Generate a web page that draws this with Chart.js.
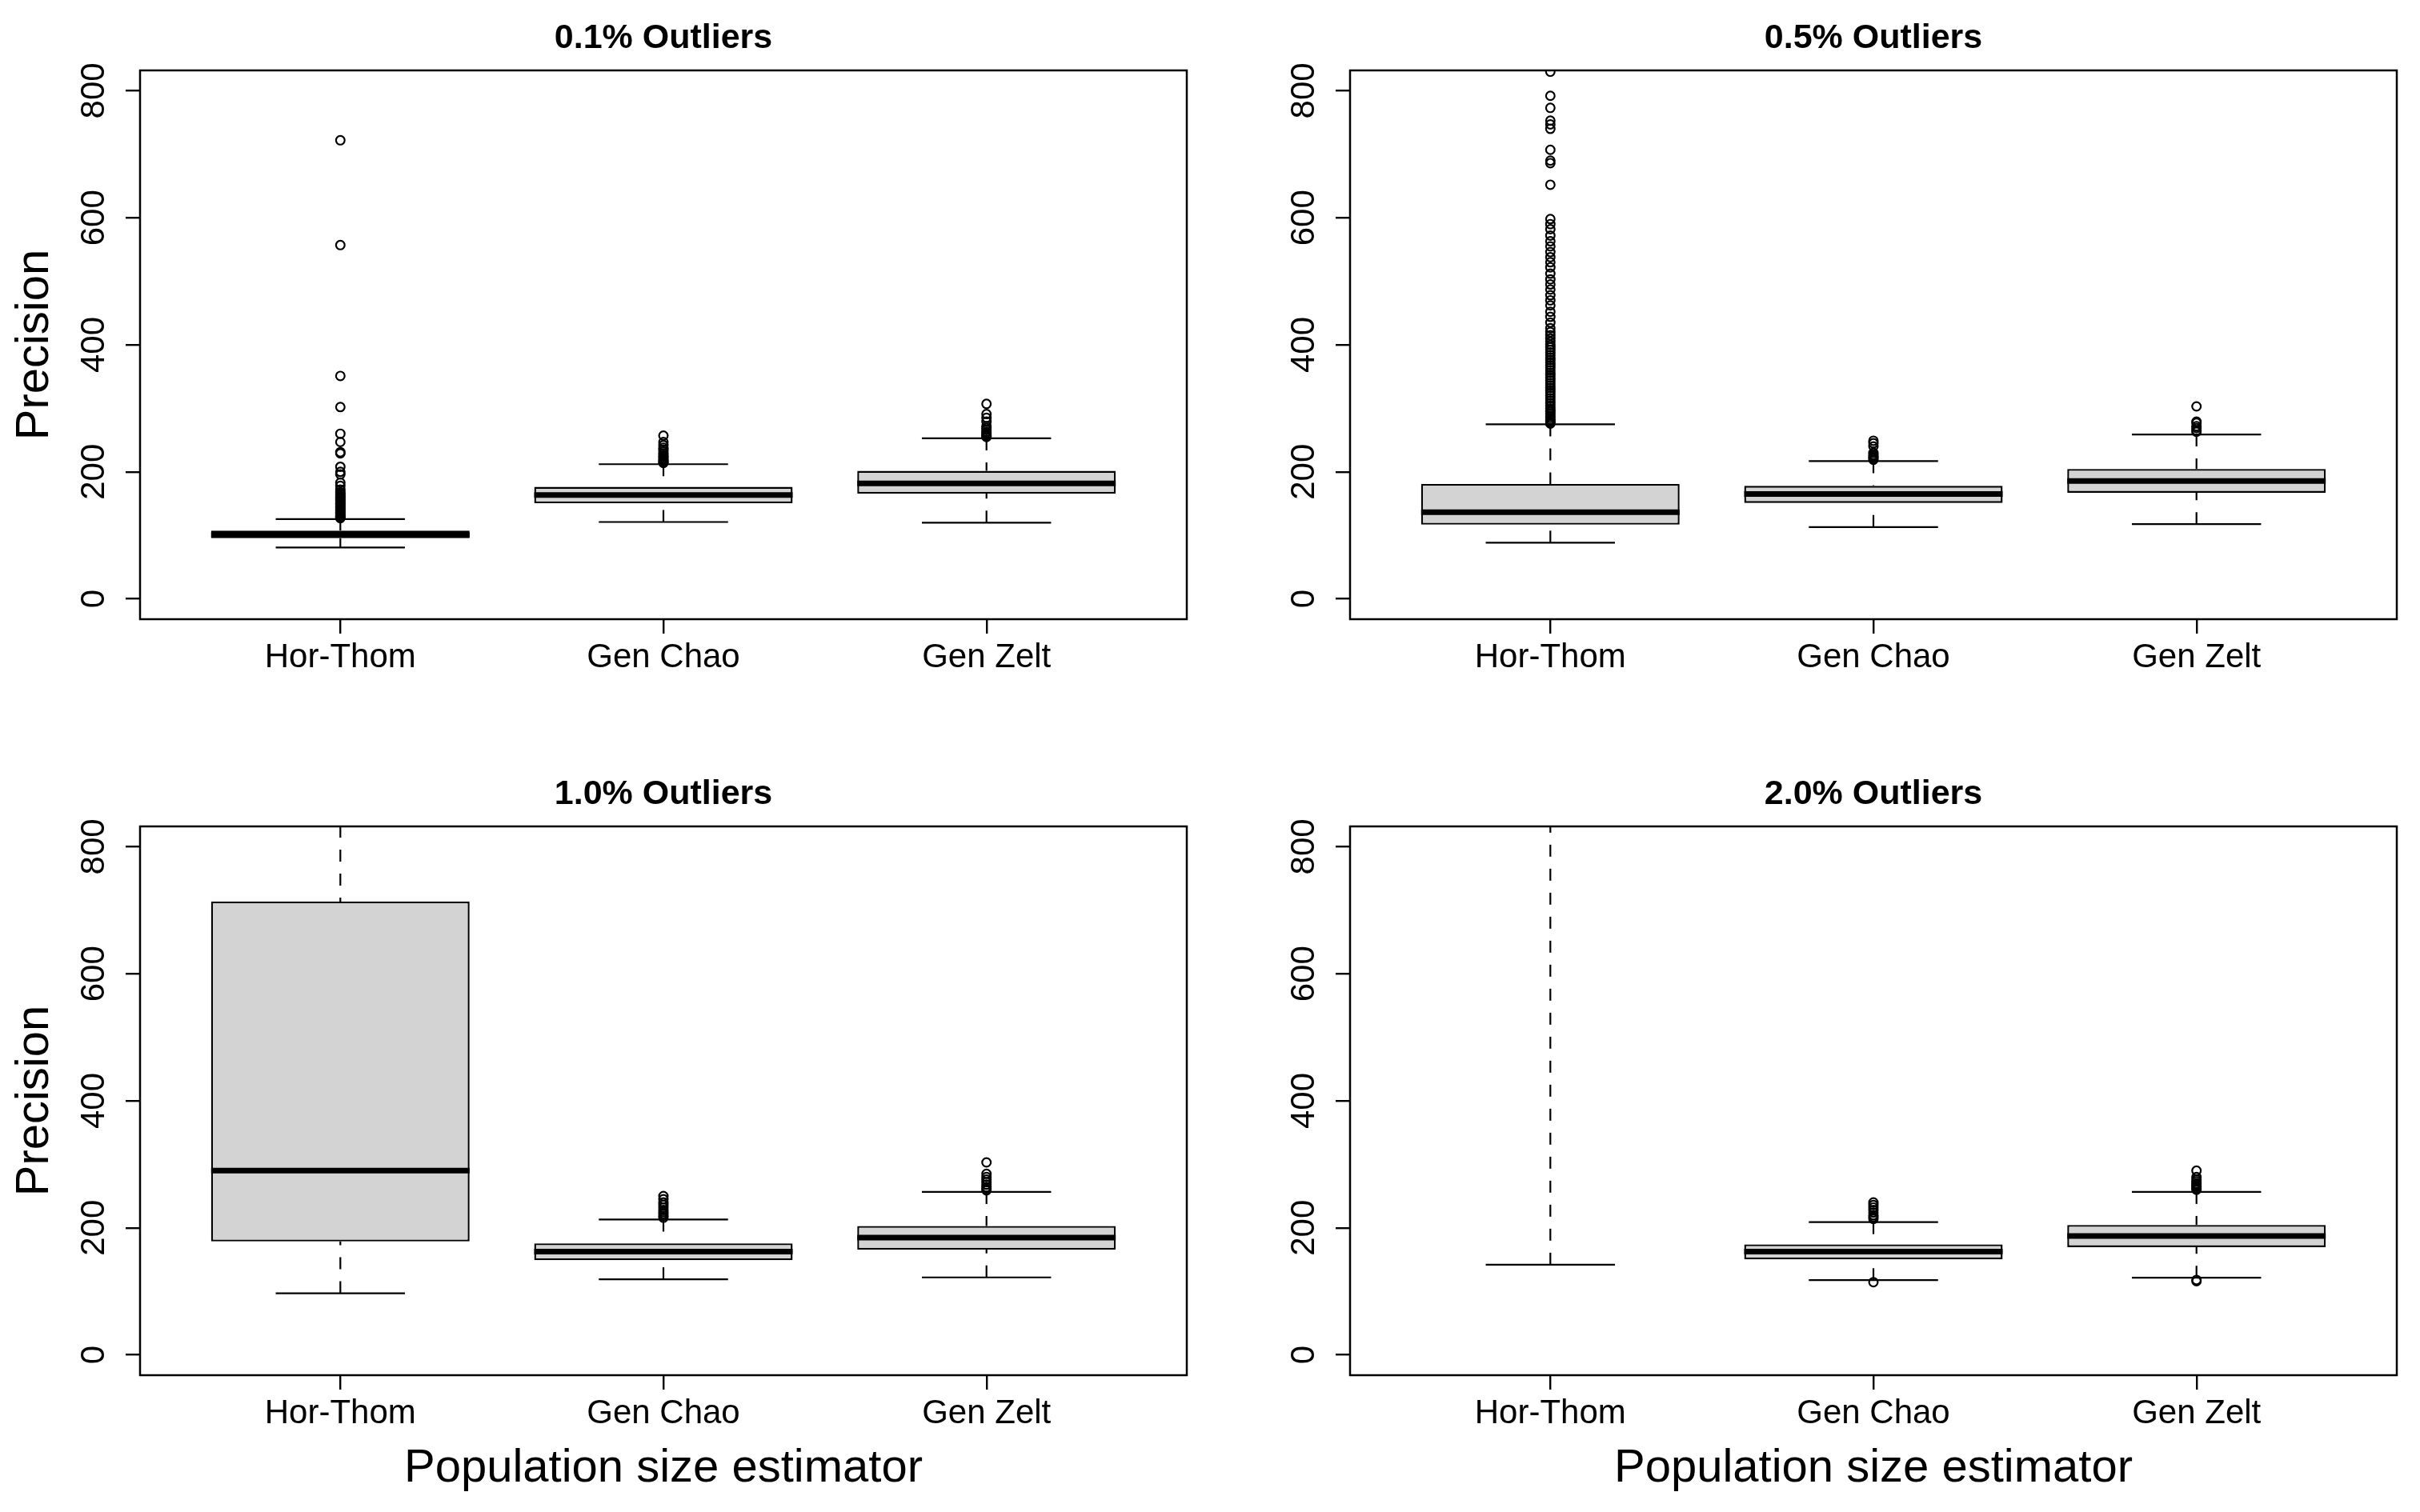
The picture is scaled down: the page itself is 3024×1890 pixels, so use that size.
<!DOCTYPE html>
<html>
<head>
<meta charset="utf-8">
<script src="https://cdn.jsdelivr.net/npm/chart.js@4"></script>
<style>
  html, body { margin: 0; padding: 0; background: #fff; }
  #wrap { position: relative; width: 3024px; height: 1890px; background: #fff; }
  canvas { position: absolute; }
</style>
</head>
<body>
<div id="wrap">
  <canvas id="c1" width="1512" height="945" style="left:0px;top:0px;width:1512px;height:945px"></canvas>
  <canvas id="c2" width="1512" height="945" style="left:1512px;top:0px;width:1512px;height:945px"></canvas>
  <canvas id="c3" width="1512" height="945" style="left:0px;top:945px;width:1512px;height:945px"></canvas>
  <canvas id="c4" width="1512" height="945" style="left:1512px;top:945px;width:1512px;height:945px"></canvas>
</div>
<script>
// ---------------- DATA ----------------
const categories = ["Hor-Thom", "Gen Chao", "Gen Zelt"];
const panelTitles = ["0.1% Outliers", "0.5% Outliers", "1.0% Outliers", "2.0% Outliers"];
const yTicks = [0, 200, 400, 600, 800];
const yLimits = [-32, 832];
const xLabel = "Population size estimator";
const yLabel = "Precision";

// 0.1% Outliers
const p1Low  = [81, 121, 120];
const p1Q1   = [95.5, 150.5, 165.6];
const p1Med  = [101, 163.4, 181.7];
const p1Q3   = [107.6, 176.3, 201.5];
const p1High = [125.5, 212, 252.7];
const p1OutHorThom = [722, 557, 351, 302, 260, 247, 231, 229, 208, 200, 196, 183, 178, 172, 168, 166, 164, 162, 160, 158, 156, 154, 152, 150, 148, 146, 144, 142, 140, 138, 136, 134, 132, 130, 129, 128, 127];
const p1OutGenChao = [257, 247, 242, 238, 235, 232, 229, 226, 224, 222, 220, 218, 216, 215, 214];
const p1OutGenZelt = [307, 291, 285, 279, 272, 269, 266, 263, 261, 259, 257, 256, 255];

// 0.5% Outliers
const p2Low  = [88.5, 113, 117.6];
const p2Q1   = [116.8, 151, 167];
const p2Med  = [136.6, 165, 185.5];
const p2Q3   = [181, 177.9, 204.6];
const p2High = [274.8, 216.8, 258.8];
const p2OutHorThom = [830, 792, 773, 753, 747, 740, 707, 690, 686, 652, 598, 590, 582, 572, 563, 555, 546, 538, 530, 522, 512, 503, 495, 487, 478, 470, 462, 452, 444, 435, 426, 420, 415, 410, 405, 400, 396, 392, 388, 384, 380, 376, 372, 368, 364, 360, 356, 352, 348, 344, 340, 336, 332, 328, 324, 320, 316, 312, 308, 304, 300, 297, 294, 291, 288, 285, 282, 280, 278, 276];
const p2OutGenChao = [249, 245, 240, 230, 227, 225, 223, 221, 219];
const p2OutGenZelt = [303, 279, 277, 272, 269, 265, 263];

// 1.0% Outliers
const p3Low  = [97, 119, 122];
const p3Q1   = [178.6, 148.9, 165.6];
const p3Med  = [290, 162.6, 184.7];
const p3Q3   = [713.7, 175.6, 203];
const p3High = [1400, 213, 256.5];
const p3OutHorThom = [];
const p3OutGenChao = [250, 245, 240, 236, 232, 228, 225, 222, 219, 216];
const p3OutGenZelt = [303, 285, 280, 276, 272, 268, 264, 261, 259];

// 2.0% Outliers
const p4Low  = [142, 117.6, 121.4];
const p4Q1   = [1100, 150.4, 169.5];
const p4Med  = [1600, 162.6, 187];
const p4Q3   = [2300, 174, 204.6];
const p4High = [3500, 209, 256.5];
const p4OutHorThom = [];
const p4OutGenChao = [240, 236, 232, 228, 224, 220, 217, 214, 114.5];
const p4OutGenZelt = [290, 280, 276, 273, 270, 268, 266, 264, 262, 260, 118, 116];

// ---------------- RENDERING ----------------
const FONT = "'Liberation Sans', Arial, Helvetica, sans-serif";

const boxPlugin = {
  id: 'boxWhiskers',
  afterDatasetDraw(chart, args) {
    if (args.index !== 0) return;
    const st = chart.data.datasets[0].stats;
    const meta = chart.getDatasetMeta(0);
    const ys = chart.scales.y;
    const ca = chart.chartArea;
    const ctx = chart.ctx;
    ctx.save();
    ctx.beginPath();
    ctx.rect(ca.left, ca.top, ca.right - ca.left, ca.bottom - ca.top);
    ctx.clip();
    ctx.strokeStyle = '#000';
    ctx.lineCap = 'butt';
    meta.data.forEach((bar, i) => {
      const p = bar.getProps(['x', 'width'], true);
      const x = p.x, w = p.width;
      const yLo = ys.getPixelForValue(st.low[i]);
      const yQ1 = ys.getPixelForValue(st.q1[i]);
      const yMed = ys.getPixelForValue(st.med[i]);
      const yQ3 = ys.getPixelForValue(st.q3[i]);
      const yHi = ys.getPixelForValue(st.high[i]);
      // dashed whiskers (from whisker end towards the box)
      ctx.lineWidth = 2.2;
      ctx.setLineDash([15, 15]);
      ctx.beginPath(); ctx.moveTo(x, yLo); ctx.lineTo(x, yQ1); ctx.stroke();
      ctx.beginPath(); ctx.moveTo(x, yHi); ctx.lineTo(x, yQ3); ctx.stroke();
      ctx.setLineDash([]);
      // staples
      ctx.beginPath();
      ctx.moveTo(x - w / 4, yLo); ctx.lineTo(x + w / 4, yLo);
      ctx.moveTo(x - w / 4, yHi); ctx.lineTo(x + w / 4, yHi);
      ctx.stroke();
      // median
      ctx.lineWidth = 7;
      ctx.beginPath(); ctx.moveTo(x - w / 2, yMed); ctx.lineTo(x + w / 2, yMed); ctx.stroke();
    });
    ctx.restore();
  },
  afterDraw(chart) {
    const ca = chart.chartArea, ctx = chart.ctx;
    ctx.save();
    ctx.strokeStyle = '#000';
    ctx.lineWidth = 2.5;
    ctx.strokeRect(ca.left, ca.top, ca.right - ca.left, ca.bottom - ca.top);
    ctx.restore();
  }
};

function makeChart(id, title, low, q1, med, q3, high, outs, showYTitle, showXTitle) {
  const boxData = categories.map((c, i) => ({ x: i + 1, y: [q1[i], q3[i]] }));
  const outData = [];
  outs.forEach((arr, i) => arr.forEach(v => outData.push({ x: i + 1, y: v })));
  const gridOpts = () => ({ display: true, offset: false, drawOnChartArea: false, drawTicks: true, tickLength: 18, color: '#000', lineWidth: 2.4 });
  return new Chart(document.getElementById(id), {
    type: 'bar',
    data: {
      datasets: [
        {
          type: 'bar', data: boxData,
          backgroundColor: '#D3D3D3', borderColor: '#000', borderWidth: 2.4, borderSkipped: false,
          categoryPercentage: 0.8, barPercentage: 1.0, clip: 0,
          stats: { low, q1, med, q3, high }
        },
        {
          type: 'scatter', data: outData, showLine: false,
          pointStyle: 'circle', pointRadius: 5.4, pointBorderWidth: 2.2,
          pointBackgroundColor: 'rgba(0,0,0,0)', pointBorderColor: '#000', clip: 0
        }
      ]
    },
    options: {
      responsive: false, animation: false, devicePixelRatio: 1,
      layout: { padding: { left: 0, right: 29, top: 0, bottom: 0 } },
      plugins: {
        legend: { display: false },
        tooltip: { enabled: false },
        title: {
          display: true, text: title, fullSize: false, color: '#000',
          font: { family: FONT, size: 43, weight: 'bold' },
          padding: { top: 22, bottom: 14.4 }
        }
      },
      scales: {
        x: {
          type: 'linear', min: 0.38, max: 3.62, offset: false,
          afterBuildTicks: s => { s.ticks = categories.map((c, i) => ({ value: i + 1 })); },
          afterFit: s => { s.height = 171; },
          ticks: {
            callback: v => categories[Math.round(v) - 1] || '',
            font: { family: FONT, size: 42 }, color: '#000', padding: 5,
            minRotation: 0, maxRotation: 0, autoSkip: false
          },
          grid: gridOpts(),
          border: { display: false },
          title: {
            display: showXTitle, text: xLabel, color: '#000',
            font: { family: FONT, size: 58 }, padding: { top: 0, bottom: 19 }
          }
        },
        y: {
          type: 'linear', min: yLimits[0], max: yLimits[1], offset: false,
          afterBuildTicks: s => { s.ticks = yTicks.map(v => ({ value: v })); },
          afterFit: s => { s.width = 175; },
          ticks: {
            callback: v => String(v),
            font: { family: FONT, size: 42 }, color: '#000',
            minRotation: 90, maxRotation: 90, crossAlign: 'center', padding: 4
          },
          grid: gridOpts(),
          border: { display: false },
          title: {
            display: showYTitle, text: yLabel, color: '#000',
            font: { family: FONT, size: 58 }, padding: { top: 9, bottom: 0 }
          }
        }
      }
    },
    plugins: [boxPlugin]
  });
}

makeChart('c1', panelTitles[0], p1Low, p1Q1, p1Med, p1Q3, p1High, [p1OutHorThom, p1OutGenChao, p1OutGenZelt], true, false);
makeChart('c2', panelTitles[1], p2Low, p2Q1, p2Med, p2Q3, p2High, [p2OutHorThom, p2OutGenChao, p2OutGenZelt], false, false);
makeChart('c3', panelTitles[2], p3Low, p3Q1, p3Med, p3Q3, p3High, [p3OutHorThom, p3OutGenChao, p3OutGenZelt], true, true);
makeChart('c4', panelTitles[3], p4Low, p4Q1, p4Med, p4Q3, p4High, [p4OutHorThom, p4OutGenChao, p4OutGenZelt], false, true);
</script>
</body>
</html>
